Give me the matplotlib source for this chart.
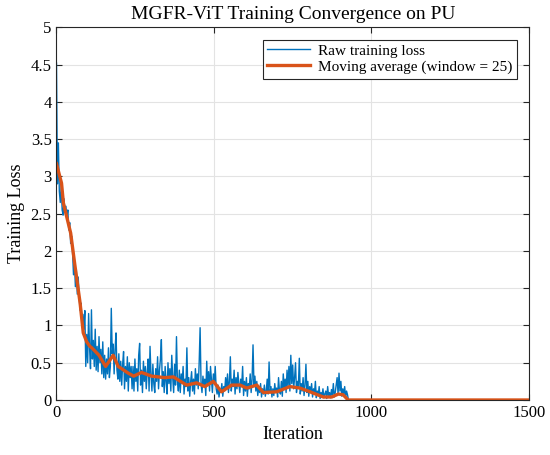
import matplotlib
matplotlib.use("Agg")
import matplotlib.pyplot as plt

plt.rcParams["font.family"] = ["Liberation Serif", "DejaVu Serif"]

# raw loss, every 3 iterations (0 ... 927)
raw_iter = list(range(0, 930, 3))
raw_loss = [
    4.52, 2.90, 3.45, 2.80, 2.65, 2.88, 2.55, 2.48, 2.70, 2.52,
    2.60, 2.45, 2.55, 2.28, 2.38, 2.10, 2.20, 1.98, 1.68, 1.85,
    1.52, 1.75, 1.42, 1.65, 1.38, 1.20, 1.30, 1.05, 1.15, 0.95,
    1.20, 0.45, 0.88, 0.50, 1.16, 0.70, 0.42, 1.21, 0.55, 0.80,
    0.45, 0.95, 0.40, 0.72, 0.38, 0.85, 0.50, 0.68, 0.35, 0.78,
    0.30, 0.60, 0.28, 0.55, 0.35, 0.70, 0.30, 0.45, 1.23, 0.62,
    0.75, 0.35, 0.68, 0.90, 0.40, 0.28, 0.62, 0.25, 0.52, 0.20,
    0.48, 0.65, 0.15, 0.45, 0.25, 0.58, 0.12, 0.50, 0.30, 0.45,
    0.15, 0.45, 0.12, 0.55, 0.25, 0.42, 0.12, 0.60, 0.76, 0.20,
    0.40, 0.10, 0.52, 0.25, 0.45, 0.15, 0.38, 0.55, 0.12, 0.72,
    0.35, 0.12, 0.48, 0.22, 0.10, 0.42, 0.25, 0.58, 0.15, 0.40,
    0.55, 0.81, 0.18, 0.38, 0.10, 0.45, 0.25, 0.08, 0.50, 0.22,
    0.42, 0.12, 0.60, 0.30, 0.10, 0.48, 0.20, 0.85, 0.25, 0.12,
    0.40, 0.10, 0.35, 0.22, 0.45, 0.08, 0.28, 0.18, 0.70, 0.12,
    0.30, 0.05, 0.25, 0.38, 0.12, 0.28, 0.08, 0.42, 0.20, 0.35,
    0.15, 0.50, 0.97, 0.22, 0.10, 0.32, 0.18, 0.28, 0.06, 0.52,
    0.20, 0.38, 0.12, 0.45, 0.28, 0.10, 0.35, 0.22, 0.45, 0.15,
    0.08, 0.20, 0.04, 0.15, 0.10, 0.22, 0.05, 0.18, 0.12, 0.30,
    0.15, 0.35, 0.10, 0.25, 0.58, 0.12, 0.28, 0.18, 0.40, 0.08,
    0.30, 0.15, 0.37, 0.22, 0.10, 0.28, 0.18, 0.45, 0.06, 0.25,
    0.12, 0.30, 0.05, 0.22, 0.15, 0.35, 0.10, 0.28, 0.74, 0.20,
    0.32, 0.12, 0.25, 0.06, 0.18, 0.10, 0.22, 0.04, 0.15, 0.08,
    0.20, 0.05, 0.12, 0.28, 0.08, 0.51, 0.10, 0.18, 0.04, 0.15,
    0.06, 0.22, 0.10, 0.16, 0.04, 0.30, 0.12, 0.08, 0.25, 0.05,
    0.35, 0.15, 0.28, 0.10, 0.40, 0.18, 0.45, 0.12, 0.60, 0.22,
    0.47, 0.15, 0.30, 0.50, 0.10, 0.25, 0.18, 0.56, 0.08, 0.22,
    0.12, 0.30, 0.06, 0.20, 0.48, 0.10, 0.25, 0.05, 0.18, 0.10,
    0.22, 0.04, 0.15, 0.08, 0.25, 0.03, 0.12, 0.06, 0.18, 0.02,
    0.10, 0.05, 0.15, 0.03, 0.08, 0.12, 0.02, 0.18, 0.05, 0.10,
    0.03, 0.14, 0.06, 0.22, 0.04, 0.10, 0.20, 0.30, 0.08, 0.36,
    0.12, 0.25, 0.05, 0.15, 0.08, 0.18, 0.03, 0.12, 0.07, 0.00,
]

# moving average (window = 25)
ma_iter = [0, 16, 22, 45, 59, 75, 85, 96, 106, 112, 135, 156, 180, 196,
           228, 245, 270, 302, 344, 371, 413, 445, 471, 498, 524, 556,
           583, 604, 636, 657, 699, 741, 773, 805, 847, 874, 895, 910,
           926, 1500]
ma_loss = [3.17, 2.91, 2.64, 2.24, 1.79, 1.30, 0.90, 0.78, 0.72, 0.70, 0.60,
           0.45, 0.60, 0.45, 0.36, 0.32, 0.37, 0.32, 0.30, 0.31, 0.20,
           0.23, 0.18, 0.25, 0.11, 0.20, 0.20, 0.16, 0.20, 0.10, 0.11,
           0.18, 0.16, 0.11, 0.04, 0.04, 0.08, 0.07, 0.0, 0.0]

fig = plt.figure(figsize=(5.5, 4.55), dpi=100)
ax = fig.add_axes([0.1027, 0.1209, 0.859, 0.819])

ax.plot(raw_iter, raw_loss, color="#0072BD", lw=1.0, label="Raw training loss")
ax.plot(ma_iter, ma_loss, color="#D95319", lw=2.4,
        label="Moving average (window = 25)")

ax.set_xlim(0, 1500)
ax.set_ylim(0, 5)
ax.set_xticks([0, 500, 1000, 1500])
ax.set_yticks([i * 0.5 for i in range(11)])
ax.set_yticklabels(["0", "0.5", "1", "1.5", "2", "2.5", "3", "3.5", "4", "4.5", "5"])
ax.grid(True, color="#e3e3e3", lw=0.8)
ax.set_axisbelow(True)
ax.tick_params(direction="in", top=True, right=True, labelsize=12,
               color="#262626", length=4)
for s in ax.spines.values():
    s.set_color("#262626")
    s.set_linewidth(0.8)

ax.set_title("MGFR-ViT Training Convergence on PU", fontsize=14, pad=6)
ax.set_xlabel("Iteration", fontsize=13)
ax.set_ylabel("Training Loss", fontsize=13)

leg = ax.legend(loc="upper right", fontsize=11, fancybox=False, framealpha=1,
                edgecolor="#262626", handlelength=2.8, handletextpad=0.5,
                borderaxespad=0.8, borderpad=0.3, labelspacing=0.15)
leg.get_frame().set_linewidth(0.8)

fig.savefig("out.png", dpi=100)
